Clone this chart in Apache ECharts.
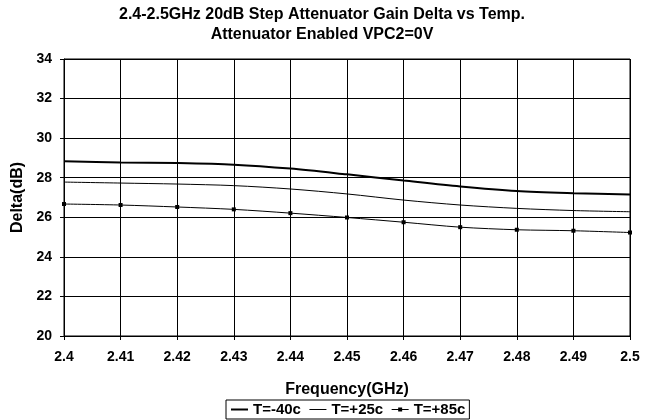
<!DOCTYPE html>
<html>
<head>
<meta charset="utf-8">
<script src="https://cdn.jsdelivr.net/npm/echarts@6/dist/echarts.min.js"></script>
<style>
html,body{margin:0;padding:0;background:#fff;}
#c{width:658px;height:420px;}
</style>
</head>
<body>
<div id="c"></div>
<script>
var freqs = [2.40, 2.41, 2.42, 2.43, 2.44, 2.45, 2.46, 2.47, 2.48, 2.49, 2.50];
var tm40 = [28.83, 28.77, 28.74, 28.66, 28.46, 28.17, 27.86, 27.56, 27.33, 27.22, 27.15];
var tp25 = [27.78, 27.73, 27.68, 27.60, 27.43, 27.18, 26.87, 26.62, 26.45, 26.34, 26.28];
var tp85 = [26.67, 26.62, 26.52, 26.40, 26.21, 25.99, 25.75, 25.50, 25.37, 25.32, 25.23];
var seriesNames = ['T=-40c', 'T=+25c', 'T=+85c'];

function pairs(ys){ return freqs.map(function(x,i){ return [x, ys[i]]; }); }

var font = 'Liberation Sans, Arial, sans-serif';
var chart = echarts.init(document.getElementById('c'));
chart.setOption({
  animation: false,
  backgroundColor: '#fff',
  title: {
    text: '2.4-2.5GHz 20dB Step Attenuator Gain Delta vs Temp.\nAttenuator Enabled VPC2=0V',
    left: 317, top: 0, textAlign: 'center',
    textStyle: { fontFamily: font, fontSize: 16, fontWeight: 'bold', color: '#000', lineHeight: 20 }
  },
  grid: { left: 64, right: 28, top: 59, bottom: 84, show: true, borderColor: '#000', borderWidth: 1 },
  legend: {
    bottom: 1, left: 226,
    data: [
      { name: seriesNames[0], itemStyle: { opacity: 0 }, lineStyle: { width: 2 } },
      { name: seriesNames[1], itemStyle: { opacity: 0 }, lineStyle: { width: 1 } },
      { name: seriesNames[2], lineStyle: { width: 1 } }
    ],
    itemWidth: 17, itemHeight: 5, itemGap: 8,
    padding: [2, 4, 2, 4],
    borderColor: '#000', borderWidth: 1, borderRadius: 0,
    textStyle: { fontFamily: font, fontSize: 15, fontWeight: 'bold', color: '#000' }
  },
  xAxis: {
    type: 'value', min: 2.4, max: 2.5, interval: 0.01,
    name: 'Frequency(GHz)', nameLocation: 'middle', nameGap: 46,
    nameTextStyle: { fontFamily: font, fontSize: 16, fontWeight: 'bold', color: '#000' },
    axisLine: { show: true, lineStyle: { color: '#000', width: 1 } },
    axisTick: { show: true, length: 4, lineStyle: { color: '#000' } },
    axisLabel: { fontFamily: font, fontSize: 14, fontWeight: 'bold', color: '#000', margin: 14,
      formatter: function(v){ return String(+v.toFixed(2)); } },
    splitLine: { show: true, lineStyle: { color: '#000', width: 1 } }
  },
  yAxis: {
    type: 'value', min: 20, max: 34, interval: 2,
    name: 'Delta(dB)', nameLocation: 'middle', nameGap: 37, nameRotate: 90,
    nameTextStyle: { fontFamily: font, fontSize: 16, fontWeight: 'bold', color: '#000' },
    axisLine: { show: true, lineStyle: { color: '#000', width: 1 } },
    axisTick: { show: true, length: 4, lineStyle: { color: '#000' } },
    axisLabel: { fontFamily: font, fontSize: 14, fontWeight: 'bold', color: '#000', margin: 12 },
    splitLine: { show: true, lineStyle: { color: '#000', width: 1 } }
  },
  series: [
    { name: seriesNames[0], type: 'line', data: pairs(tm40), smooth: 0.3, symbol: 'none',
      lineStyle: { color: '#000', width: 2 }, itemStyle: { color: '#000' } },
    { name: seriesNames[1], type: 'line', data: pairs(tp25), smooth: 0.3, symbol: 'none',
      lineStyle: { color: '#000', width: 1 }, itemStyle: { color: '#000' } },
    { name: seriesNames[2], type: 'line', data: pairs(tp85), smooth: 0.3, symbol: 'rect', symbolSize: 4,
      lineStyle: { color: '#000', width: 1 }, itemStyle: { color: '#000' } }
  ]
});
</script>
</body>
</html>
